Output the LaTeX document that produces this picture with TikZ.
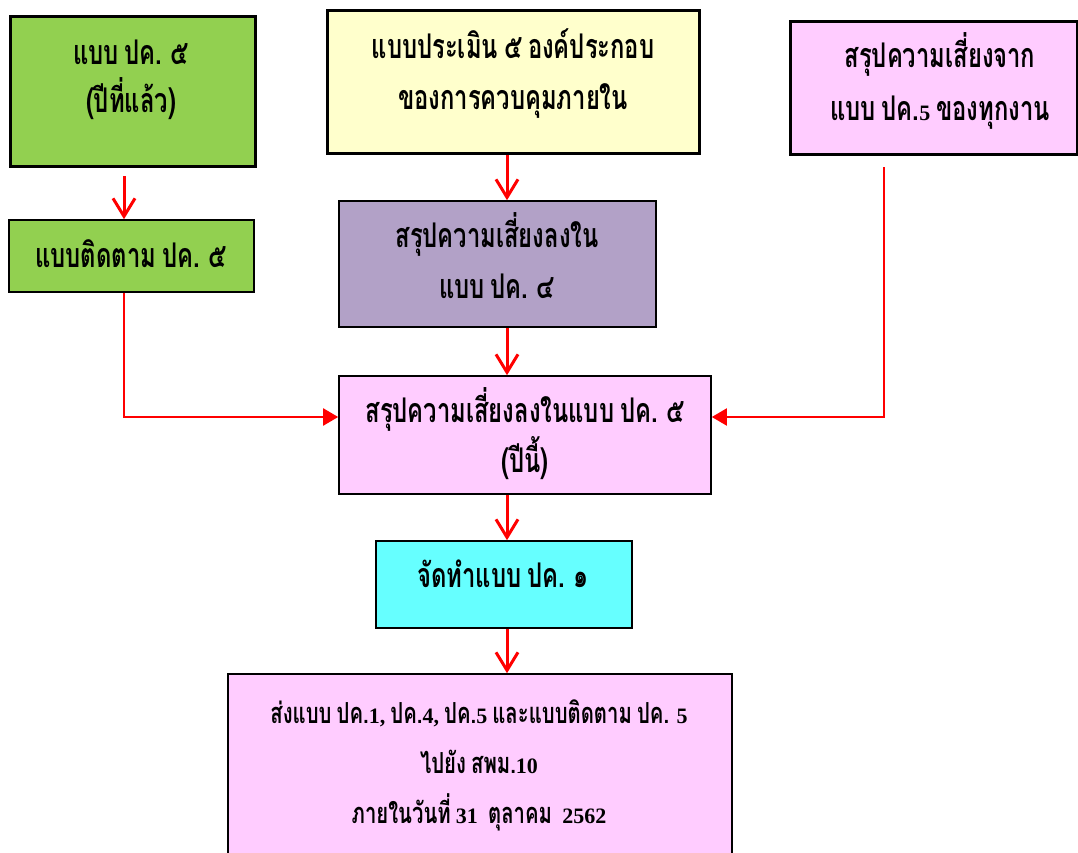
\documentclass[tikz,border=0pt]{standalone}
\usepackage{fontspec}
\newfontfamily\thaifont[Script=Thai, FakeStretch=0.7]{Loma}
\newfontfamily\thaifontH[Script=Thai, FakeStretch=0.7, WordSpace=0.75]{Loma}
\newfontfamily\latinfont{Liberation Serif}
\newcommand\latn[1]{{\latinfont\bfseries\fontsize{22}{50}\selectfont #1}}
\newcommand\thtxt[1]{\thaifont\bfseries\fontsize{34}{#1}\selectfont}
\usetikzlibrary{arrows.meta}
\definecolor{cgreen}{RGB}{146,208,80}
\definecolor{cyellow}{RGB}{255,255,204}
\definecolor{cpurple}{RGB}{178,161,199}
\definecolor{cpink}{RGB}{255,204,255}
\definecolor{ccyan}{RGB}{102,255,255}
\definecolor{cred}{RGB}{255,0,0}
\begin{document}
\begin{tikzpicture}[x=1pt,y=-1pt,
  box/.style={draw=black, rectangle, inner sep=0pt},
  thickbox/.style={box, line width=3pt},
  thinbox/.style={box, line width=1.6pt},
  txt/.style={font=\thtxt{50}, align=center, anchor=base, inner sep=0pt},
  downarr/.style={draw=cred, line width=3pt, -{Straight Barb[length=18pt,width=22pt]}},
  elbow/.style={draw=cred, line width=2pt, -{Triangle[length=15pt,width=17pt]}}
]
\useasboundingbox (0,0) rectangle (1078,853);
\clip (0,0) rectangle (1078,853);
\fill[white] (0,0) rectangle (1078,853);

% boxes
\node[thickbox, fill=cgreen, minimum width=245pt, minimum height=150pt] (A) at (132.5,92) {};
\node[thinbox, fill=cgreen, minimum width=245pt, minimum height=72pt] (B) at (131.5,256) {};
\node[thickbox, fill=cyellow, minimum width=372pt, minimum height=143pt] (C) at (513,82.5) {};
\node[thinbox, fill=cpurple, minimum width=317pt, minimum height=126pt] (D) at (497.5,264) {};
\node[thickbox, fill=cpink, minimum width=287pt, minimum height=133pt] (E) at (933.5,88.5) {};
\node[thinbox, fill=cpink, minimum width=372pt, minimum height=118pt] (F) at (525,435) {};
\node[thinbox, fill=ccyan, minimum width=256pt, minimum height=87pt] (G) at (504,584.5) {};
\node[thinbox, fill=cpink, minimum width=504pt, minimum height=206pt] (H) at (480,777) {};

% texts (anchored at the baseline of their last line)
\node[txt, font=\thtxt{48}] (tA) at (131,113) {แบบ ปค. ๕\\(ปีที่แล้ว)};
\node[txt] (tB) at (131,267) {แบบติดตาม ปค. ๕};
\node[txt, font=\thtxt{51}] (tC) at (513,110) {แบบประเมิน ๕ องค์ประกอบ\\ของการควบคุมภายใน};
\node[txt, font=\thtxt{51}] (tD) at (497,298) {สรุปความเสี่ยงลงใน\\แบบ ปค. ๔};
\node[txt, font=\thtxt{53}] (tE) at (940,121) {สรุปความเสี่ยงจาก\\แบบ ปค.\latn{5} ของทุกงาน};
\node[txt] (tF) at (525,472) {สรุปความเสี่ยงลงในแบบ ปค. ๕\\(ปีนี้)};
\node[txt] (tG) at (503,587) {จัดทำแบบ ปค. ๑};
\node[txt, font=\thaifontH\bfseries\fontsize{29}{50}\selectfont] (tH) at (479,823) {ส่งแบบ ปค.\latn{1,} ปค.\latn{4,} ปค.\latn{5} และแบบติดตาม ปค. \latn{5}\\ไปยัง สพม.\latn{10}\\ภายในวันที่ \latn{31}\ \ ตุลาคม\ \ \latn{2562}};

% guide coordinates
\coordinate (xl) at (124,0);
\coordinate (xm) at (507,0);
\coordinate (xr) at (884,0);
\coordinate (yj) at (0,417);

% connectors
\draw[downarr, shorten <=8pt] (A.south -| xl) -- (B.north -| xl);
\draw[downarr] (C.south -| xm) -- (D.north -| xm);
\draw[downarr] (D.south -| xm) -- (F.north -| xm);
\draw[downarr] (F.south -| xm) -- (G.north -| xm);
\draw[downarr] (G.south -| xm) -- (H.north -| xm);
\draw[elbow] (B.south -| xl) -- (xl |- yj) -- (F.west |- yj);
\draw[elbow, shorten <=11pt] (E.south -| xr) -- (xr |- yj) -- (F.east |- yj);
\end{tikzpicture}
\end{document}
